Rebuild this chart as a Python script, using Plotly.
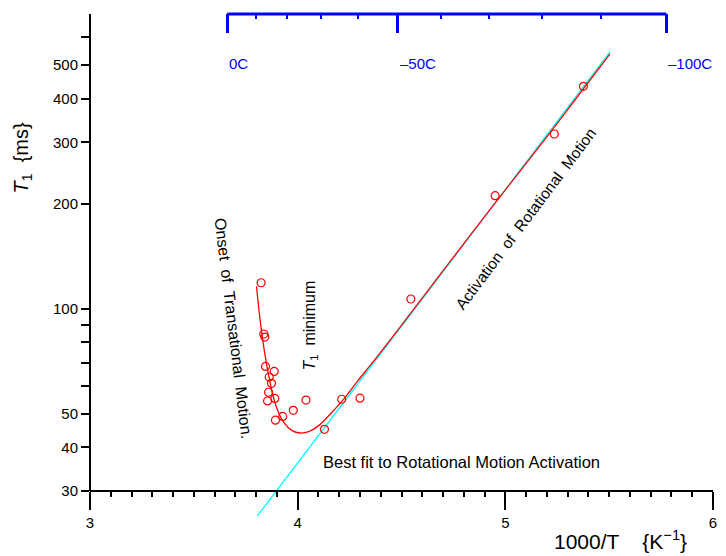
import numpy as np
import plotly.graph_objects as go

# Measured T1 relaxation times against inverse temperature (1000/T, K^-1)
inv_temp = [3.824, 3.837, 3.842, 3.845, 3.887, 3.863, 3.874, 3.860, 3.890, 3.855,
            3.893, 3.928, 3.979, 4.040, 4.129, 4.212, 4.300, 4.545, 4.951, 5.236, 5.376]
t1_ms = [118.7, 84.6, 82.9, 68.3, 66.1, 63.7, 61.1, 57.6, 55.3, 54.4,
         47.9, 49.1, 51.1, 54.7, 45.1, 55.0, 55.4, 106.6, 210.9, 316.9, 434.2]

# Combined model fit (translational onset + rotational activation)
fit_inv_temp = [3.802, 3.813, 3.829, 3.846, 3.861, 3.877, 3.901, 3.933, 3.973, 4.013,
                4.053, 4.101, 4.164, 4.228, 4.292, 4.360, 4.483, 4.738, 4.951, 5.209,
                5.377, 5.504]
fit_t1_ms = [115.9, 99.8, 83.6, 71.7, 64.2, 57.6, 51.6, 47.2, 44.7, 44.0,
             44.4, 46.2, 50.4, 55.6, 62.4, 70.0, 87.0, 137.5, 201.0, 316.0,
             428.0, 538.0]

# Rotational activation alone (straight line on the log scale)
rot_inv_temp = [3.805, 5.504]
rot_t1_ms = [25.4, 545.0]

# Celsius scale shown along the top
celsius_major = [0, -50, -100]
celsius_minor = [-10, -20, -30, -40, -60, -70, -80, -90]
celsius_labels = ["0C", "\u201350C", "\u2013100C"]

# Axis ticks
y_tickvals = [30, 40, 50, 60, 70, 80, 90, 100, 200, 300, 400, 500, 600]
y_ticktext = ["30", "40", "50", "", "", "", "", "100", "200", "300", "400", "500", ""]
x_tickvals = [3, 3.5, 4, 4.5, 5, 5.5, 6]
x_ticktext = ["3", "", "4", "", "5", "", "6"]

FONT = "Liberation Sans, Arial, sans-serif"
RED = "#ff0000"
CYAN = "#00ffff"
BLUE = "#0000ff"


def c_to_inv(c):
    return 1000.0 / (273.15 + c)


y_floor, y_axis_at, y_top = 24.45, 30, 700
lo, hi = np.log10(y_floor), np.log10(y_top)
x_axis_pos = (np.log10(y_axis_at) - lo) / (hi - lo)

fig = go.Figure()

fig.add_trace(go.Scatter(
    x=rot_inv_temp, y=rot_t1_ms, mode="lines",
    line=dict(color=CYAN, width=1.3), showlegend=False, hoverinfo="skip"))

fig.add_trace(go.Scatter(
    x=fit_inv_temp, y=fit_t1_ms, mode="lines",
    line=dict(color=RED, width=1.3, shape="spline", smoothing=0.8),
    showlegend=False))

fig.add_trace(go.Scatter(
    x=inv_temp, y=t1_ms, mode="markers",
    marker=dict(symbol="circle-open", size=8, color=RED, line=dict(width=1.2, color=RED)),
    showlegend=False))

# Invisible trace to activate the top (Celsius) axis
fig.add_trace(go.Scatter(x=[3, 6], y=[100, 100], xaxis="x2", mode="markers",
                         marker=dict(opacity=0), showlegend=False, hoverinfo="skip"))

fig.update_layout(
    width=726, height=556,
    margin=dict(l=90, r=9, t=14, b=34),
    paper_bgcolor="white", plot_bgcolor="white",
    font=dict(family=FONT, size=15, color="black"),
    xaxis=dict(
        range=[3, 6], anchor="free", position=x_axis_pos,
        showgrid=False, zeroline=False,
        showline=True, linecolor="black", linewidth=2,
        tickmode="array", tickvals=x_tickvals, ticktext=x_ticktext,
        ticks="outside", ticklen=18, tickwidth=2, tickcolor="black",
        tickfont=dict(size=15),
        minor=dict(tickmode="array",
                   tickvals=[round(v, 1) for v in np.arange(3.1, 6.0, 0.1)],
                   ticks="outside", ticklen=5, tickwidth=2, tickcolor="black"),
    ),
    xaxis2=dict(
        matches="x", overlaying="x", side="top", anchor="y",
        showgrid=False, zeroline=False, showline=False,
        tickmode="array", tickvals=[c_to_inv(c) for c in celsius_major],
        showticklabels=False,
        ticks="inside", ticklen=19, tickwidth=2.5, tickcolor=BLUE,
        minor=dict(tickmode="array", tickvals=[c_to_inv(c) for c in celsius_minor],
                   ticks="inside", ticklen=5, tickwidth=2, tickcolor=BLUE),
    ),
    yaxis=dict(
        type="log", range=[lo, hi],
        showgrid=False, zeroline=False, showline=False,
        tickmode="array", tickvals=y_tickvals, ticktext=y_ticktext,
        ticks="outside", ticklen=8, tickwidth=2, tickcolor="black",
        tickfont=dict(size=15),
    ),
)

# Left axis line, from 30 ms to the top of the scale
fig.add_shape(type="line", xref="paper", yref="y", x0=0, x1=0,
              y0=y_axis_at, y1=y_top, line=dict(color="black", width=2))

# Celsius axis line spanning 0C to -100C
fig.add_shape(type="line", xref="x", yref="paper",
              x0=c_to_inv(celsius_major[0]), x1=c_to_inv(celsius_major[-1]),
              y0=1, y1=1, line=dict(color=BLUE, width=3))

for c, lab in zip(celsius_major, celsius_labels):
    fig.add_annotation(x=c_to_inv(c), y=0.9016, xref="x", yref="paper",
                       text=lab, showarrow=False, xanchor="left", yanchor="middle",
                       font=dict(color=BLUE, size=15))

# Axis titles
fig.add_annotation(x=-0.132, y=0.79, xref="paper", yref="paper",
                   text="<i>T</i><sub>1</sub>  {ms}", textangle=-90,
                   showarrow=False, font=dict(size=20))
fig.add_annotation(x=0.962, y=-0.0354, xref="paper", yref="paper",
                   text="1000/T    {K<sup>\u22121</sup>}", xanchor="right", yanchor="middle",
                   showarrow=False, font=dict(size=21))

# Curve labels (annotation y on a log axis is given in decades)
fig.add_annotation(x=3.693, y=np.log10(88.0), text="Onset  of  Transational  Motion.",
                   textangle=83, showarrow=False, font=dict(size=16))
fig.add_annotation(x=4.057, y=np.log10(89.2), text="<i>T</i><sub>1</sub>  minimum",
                   textangle=-90, showarrow=False, font=dict(size=16))
fig.add_annotation(x=5.097, y=np.log10(182.0), text="Activation  of  Rotational  Motion",
                   textangle=-53, showarrow=False, font=dict(size=15.5))
fig.add_annotation(x=4.79, y=np.log10(36.3), text="Best fit to Rotational Motion Activation",
                   showarrow=False, font=dict(size=16.5))

fig.write_html("out.html")
